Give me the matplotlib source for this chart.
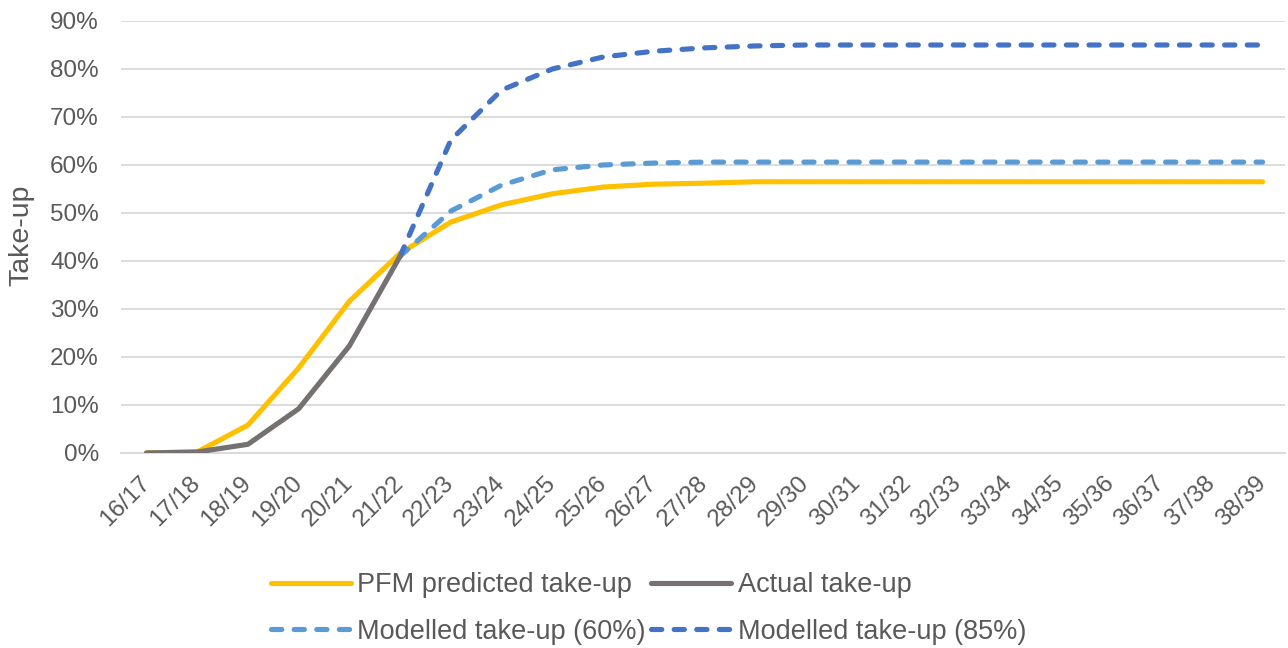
import matplotlib
matplotlib.use("Agg")
import matplotlib.pyplot as plt
from matplotlib.ticker import PercentFormatter

plt.rcParams['font.family'] = ['Liberation Sans', 'DejaVu Sans']

years = ["16/17", "17/18", "18/19", "19/20", "20/21", "21/22", "22/23", "23/24",
         "24/25", "25/26", "26/27", "27/28", "28/29", "29/30", "30/31", "31/32",
         "32/33", "33/34", "34/35", "35/36", "36/37", "37/38", "38/39"]

pfm_predicted = [0.0, 0.2, 5.8, 17.7, 31.6, 41.6, 48.1, 51.7, 54.0, 55.4, 56.0, 56.2,
                 56.5, 56.5, 56.5, 56.5, 56.5, 56.5, 56.5, 56.5, 56.5, 56.5, 56.5]
actual = [0.0, 0.2, 1.8, 9.2, 22.3, 41.0]
modelled_60 = [41.0, 50.4, 55.8, 59.0, 60.0, 60.4, 60.6, 60.6, 60.6, 60.6, 60.6,
               60.6, 60.6, 60.6, 60.6, 60.6, 60.6, 60.6]
modelled_85 = [41.0, 65.2, 75.6, 80.0, 82.5, 83.7, 84.4, 84.8, 85.0, 85.0, 85.0,
               85.0, 85.0, 85.0, 85.0, 85.0, 85.0, 85.0]

text_col = "#595959"
fig = plt.figure(figsize=(12.88, 6.48), dpi=100)
ax = fig.add_axes([0.094, 0.301, 0.904, 0.6666])

x_all = list(range(len(years)))
start = len(actual) - 1
lw = 3.7
l_pfm, = ax.plot(x_all, pfm_predicted, color="#FFC000", lw=lw,
                 solid_capstyle="round", solid_joinstyle="round", label="PFM predicted take-up", zorder=3)
l_act, = ax.plot(x_all[:len(actual)], actual, color="#767171", lw=lw,
                 solid_capstyle="round", solid_joinstyle="round", label="Actual take-up", zorder=4)
l_60, = ax.plot(x_all[start:start + len(modelled_60)], modelled_60, color="#5B9BD5", lw=lw,
                dashes=(2.0, 2.4), dash_capstyle="round", label="Modelled take-up (60%)", zorder=3)
l_85, = ax.plot(x_all[start:start + len(modelled_85)], modelled_85, color="#4472C4", lw=lw,
                dashes=(2.0, 2.4), dash_capstyle="round", label="Modelled take-up (85%)", zorder=3)

ax.set_xlim(-0.5, 22.45)
ax.set_ylim(0, 90)
ax.set_yticks(range(0, 91, 10))
ax.yaxis.set_major_formatter(PercentFormatter(decimals=0))
ax.set_xticks(x_all)
ax.set_xticklabels(years, rotation=45, ha="right", va="center", rotation_mode="anchor")
ax.tick_params(axis="both", length=0, labelsize=17.5, colors=text_col)
ax.tick_params(axis="x", pad=19.5)
ax.tick_params(axis="y", pad=16)
ax.grid(axis="y", color="#D9D9D9", lw=1.3)
ax.set_axisbelow(True)
for s in ["top", "right", "left"]:
    ax.spines[s].set_visible(False)
ax.spines["bottom"].set_color("#D9D9D9")
ax.spines["bottom"].set_linewidth(1.3)
ax.set_ylabel("Take-up", fontsize=20.5, color=text_col)
ax.yaxis.set_label_coords(-0.0745, 0.505)

leg = fig.legend([l_pfm, l_60, l_act, l_85],
                 [l.get_label() for l in (l_pfm, l_60, l_act, l_85)],
                 ncol=2, loc="center", bbox_to_anchor=(0.5035, 0.061),
                 frameon=False, fontsize=19.5, handlelength=2.95, handletextpad=0.25,
                 columnspacing=0.2, labelspacing=0.77, labelcolor=text_col,
                 borderpad=0, borderaxespad=0)

fig.savefig("out.png", dpi=100)
